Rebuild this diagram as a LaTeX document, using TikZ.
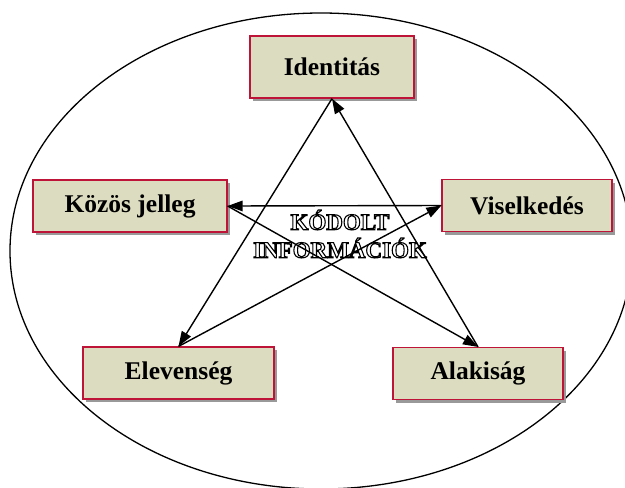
\documentclass[tikz,border=0pt]{standalone}
\usepackage{fontspec}
\setmainfont{Liberation Serif}
\usetikzlibrary{arrows.meta,shadows}
\definecolor{boxFill}{RGB}{220,220,192}
\definecolor{boxLine}{RGB}{190,20,55}
\newcommand{\hollowText}[1]{\special{pdf:literal direct 1 Tr 1.1 w}#1\special{pdf:literal direct 0 Tr}}
\tikzset{
  infoBox/.style={draw=boxLine,line width=1.2pt,fill=boxFill,
    drop shadow={shadow xshift=3pt,shadow yshift=-3pt,fill=black!40,opacity=1},
    minimum height=52pt,inner sep=0pt,
    font=\fontsize{25.5}{30}\selectfont\bfseries},
  arr/.style={line width=1.4pt,-{Triangle[length=15pt,width=10.5pt]}}
}
\begin{document}
\begin{tikzpicture}[x=1pt,y=-1pt]
\useasboundingbox (0,0) rectangle (625,488);
\clip (0,0) rectangle (625,488);
\draw[line width=1.3pt] (321,251) ellipse [x radius=311,y radius=238];
\node[infoBox,minimum width=164pt,minimum height=62pt] (ident) at (332,67) {Identitás};
\node[infoBox,minimum width=194pt] (kozos) at (130,206) {Közös jelleg};
\node[infoBox,minimum width=170pt] (visel) at (527,205.5) {Viselkedés};
\node[infoBox,minimum width=191pt] (elev) at (178.5,373) {Elevenség};
\node[infoBox,minimum width=170pt] (alak) at (478,373.5) {Alakiság};
\draw[arr] (elev.north) -- (visel.west);
\draw[arr] (visel.west) -- (kozos.east);
\draw[arr] (kozos.east) -- (alak.north);
\draw[arr] (alak.north) -- (ident.south);
\draw[arr] (ident.south) -- (elev.north);
\node[align=center,font=\fontsize{23}{28}\selectfont\bfseries] (kodolt) at (340,234)
  {\hollowText{KÓDOLT}\\\hollowText{INFORMÁCIÓK}};
\end{tikzpicture}
\end{document}
